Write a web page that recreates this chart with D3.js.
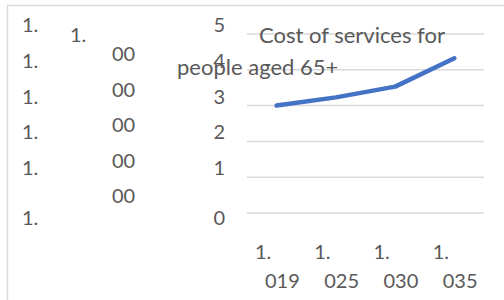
<!DOCTYPE html>
<html lang="en">
<head>
  <meta charset="UTF-8">
  <title>Cost of services for people aged 65+</title>
  <script src="https://d3js.org/d3.v7.min.js"></script>
  <style>
    body { margin: 0; background: #fff; }
    svg text {
      font-family: Lato, "Open Sans", sans-serif;
      fill: #595959;
    }
    .grid line { stroke: #d9d9d9; stroke-width: 1.5px; }
    .series { fill: none; stroke: #4472c4; stroke-width: 4.5px; stroke-linecap: round; stroke-linejoin: round; }
  </style>
</head>
<body>
  <svg></svg>
  <script>
    // chart data
    const categories = ["2019", "2025", "2030", "2035"];
    const xLabelLines = [["1.", "019"], ["1.", "025"], ["1.", "030"], ["1.", "035"]];
    const costValues = [3.0, 3.23, 3.53, 4.32];
    const yTicks = [0, 1, 2, 3, 4, 5];
    const titleLines = ["Cost of services for", "people aged 65+"];
    // stray labels of the broken left axis
    const strayRowLabels = ["1.", "1.", "1.", "1.", "1.", "1."];
    const strayMidLabel = "1.";
    const strayZeroLabels = ["00", "00", "00", "00", "00"];

    const width = 504, height = 300;

    const svg = d3.select("svg")
        .attr("width", width)
        .attr("height", height);

    // chart area border (runs off the right and bottom)
    svg.append("rect")
        .attr("x", 7.5).attr("y", 5.5)
        .attr("width", 600).attr("height", 400)
        .attr("fill", "none")
        .attr("stroke", "#d9d9d9")
        .attr("stroke-width", 1.5);

    const x = d3.scaleBand().domain(categories).range([247, 484]);
    const y = d3.scaleLinear().domain([0, 5]).range([213, 34]);

    svg.append("g").attr("class", "grid")
      .selectAll("line")
      .data(yTicks)
      .join("line")
        .attr("x1", 247).attr("x2", 484)
        .attr("y1", d => y(d)).attr("y2", d => y(d));

    // baseline of each axis row; the zero label sits under its gridline
    const rowBase = d => d === 0 ? y(d) + 12 : y(d) - 2;

    svg.append("g")
      .selectAll("text")
      .data(yTicks)
      .join("text")
        .attr("x", 225)
        .attr("y", rowBase)
        .attr("text-anchor", "end")
        .style("font-size", "20px")
        .text(d => d);

    svg.append("g")
      .selectAll("text")
      .data(strayRowLabels)
      .join("text")
        .attr("x", 22)
        .attr("y", (d, i) => rowBase(yTicks[yTicks.length - 1 - i]))
        .style("font-size", "20px")
        .text(d => d);

    svg.append("text")
        .attr("x", 70).attr("y", 42)
        .style("font-size", "20px")
        .text(strayMidLabel);

    svg.append("g")
      .selectAll("text")
      .data(strayZeroLabels)
      .join("text")
        .attr("x", 112)
        .attr("y", (d, i) => 61 + i * 35.5)
        .style("font-size", "20px")
        .text(d => d);

    // x labels, two lines each
    const xl = svg.append("g")
      .selectAll("g")
      .data(categories)
      .join("g")
        .attr("transform", d => `translate(${x(d)},0)`);
    xl.append("text")
        .attr("x", 8).attr("y", 259)
        .style("font-size", "20px")
        .text((d, i) => xLabelLines[i][0]);
    xl.append("text")
        .attr("x", 18).attr("y", 288)
        .style("font-size", "20px")
        .text((d, i) => xLabelLines[i][1]);

    const line = d3.line()
        .x((d, i) => x(categories[i]) + x.bandwidth() / 2)
        .y(d => y(d));

    svg.append("path")
        .datum(costValues)
        .attr("class", "series")
        .attr("d", line);

    // title drawn over the plot, as in the source
    svg.append("text")
        .attr("x", 352).attr("y", 43)
        .attr("text-anchor", "middle")
        .style("font-size", "22px")
        .text(titleLines[0]);
    svg.append("text")
        .attr("x", 177).attr("y", 75)
        .style("font-size", "22px")
        .text(titleLines[1]);
  </script>
</body>
</html>
